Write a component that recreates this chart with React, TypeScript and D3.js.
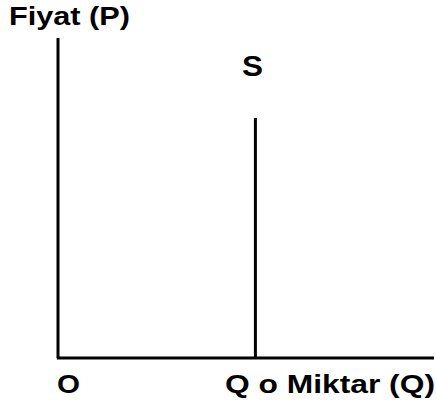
import React from "react";
import * as d3 from "d3";

const W = 436;
const H = 413;

// data
const axisLabels = ["Fiyat (P)", "Miktar (Q)"];
const originLabel = "O";
const supplyLabel = "S";
const supplyQuantity = [0.525]; // Q0 position on quantity axis (0..1)
const supplyPriceRange = [0, 0.75]; // vertical supply curve extent on price axis
const quantityTickLabels = ["Q o"];

export default function App() {
  const x = d3.scaleLinear().domain([0, 1]).range([58, 434]);
  const y = d3.scaleLinear().domain([0, 1]).range([358, 38]);
  const line = d3.line<[number, number]>().x((d) => x(d[0])).y((d) => y(d[1]));

  const q0 = supplyQuantity[0];
  const font = "'Liberation Sans', Arial, Helvetica, sans-serif";

  return (
    <svg
      width={W}
      height={H}
      style={{ position: "absolute", left: 0, top: 0, display: "block", background: "#fff" }}
    >
      <rect width={W} height={H} fill="#fff" />
      {/* axes */}
      <path d={line([[0, 1], [0, 0]]) || ""} stroke="#000" strokeWidth={3} fill="none" />
      <path d={line([[-0.003, 0], [1, 0]]) || ""} stroke="#000" strokeWidth={3} fill="none" />
      {/* supply */}
      <path
        d={line([[q0, supplyPriceRange[0]], [q0, supplyPriceRange[1]]]) || ""}
        stroke="#000"
        strokeWidth={3}
        fill="none"
      />
      {/* labels */}
      <text x={9} y={25} fontFamily={font} fontWeight="bold" fontSize={26} textLength={121} lengthAdjust="spacingAndGlyphs">
        {axisLabels[0]}
      </text>
      <text x={242} y={76} fontFamily={font} fontWeight="bold" fontSize={30} textLength={21} lengthAdjust="spacingAndGlyphs">
        {supplyLabel}
      </text>
      <text x={57} y={393} fontFamily={font} fontWeight="bold" fontSize={25} textLength={23} lengthAdjust="spacingAndGlyphs">
        {originLabel}
      </text>
      <text x={225} y={393} fontFamily={font} fontWeight="bold" fontSize={25} textLength={210} lengthAdjust="spacingAndGlyphs">
        {quantityTickLabels[0] + " " + axisLabels[1]}
      </text>
    </svg>
  );
}
